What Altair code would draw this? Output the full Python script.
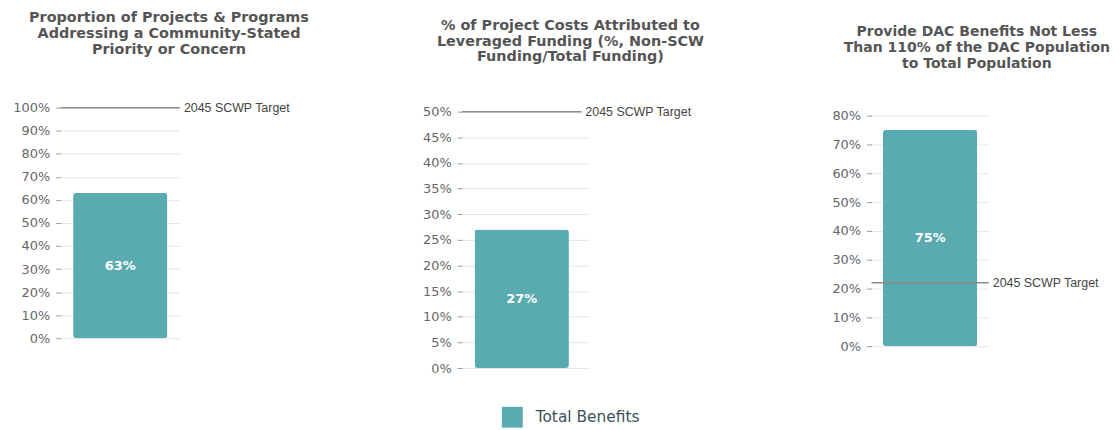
import altair as alt
import pandas as pd

# ---- data ----
titles = [
    ["Proportion of Projects & Programs", "Addressing a Community-Stated", "Priority or Concern"],
    ["% of Project Costs Attributed to", "Leveraged Funding (%, Non-SCW", "Funding/Total Funding)"],
    ["Provide DAC Benefits Not Less", "Than 110% of the DAC Population", "to Total Population"],
]
values = [63, 27, 75]
targets = [100, 50, 22]
tick_values = [
    [0, 10, 20, 30, 40, 50, 60, 70, 80, 90, 100],
    [0, 5, 10, 15, 20, 25, 30, 35, 40, 45, 50],
    [0, 10, 20, 30, 40, 50, 60, 70, 80],
]
series_name = "Total Benefits"
target_label = "2045 SCWP Target"

# ---- layout / style ----
TEAL = "#5aabb0"
widths = [120, 128, 118]
band_widths = [120, 120, 118]
heights = [232, 262, 240]
ymax = [100, 262 / 5.16, 240 / 2.9]
title_offsets = [45, 41, 37]
title_dx = [49, 45, 47]
title_sizes = [14.5, 14.5, 14.1]
FONT = "DejaVu Sans"


def panel(i):
    df = pd.DataFrame({
        "series": [series_name],
        "value": [values[i]],
        "label": [f"{values[i]}%"],
    })
    tdf = pd.DataFrame({"t": [targets[i]], "lab": [target_label]})
    yscale = alt.Scale(domain=[0, ymax[i]], nice=False, zero=True)
    yaxis = alt.Axis(
        values=tick_values[i],
        labelExpr="datum.value + '%'",
        title=None,
        domain=False,
        grid=True,
        labelOverlap=False,
    )
    pad_outer = (widths[i] / band_widths[i] - 1) / 2
    xenc = alt.X(
        "series:N",
        axis=None,
        scale=alt.Scale(paddingInner=0, paddingOuter=pad_outer, align=0),
    )

    bar = alt.Chart(df).mark_bar(width=95, cornerRadius=3).encode(
        x=xenc,
        y=alt.Y("value:Q", scale=yscale, axis=yaxis),
        color=alt.Color(
            "series:N",
            scale=alt.Scale(domain=[series_name], range=[TEAL]),
            legend=alt.Legend(
                title=None,
                orient="none",
                legendX=444,
                legendY=301,
                symbolType="square",
                symbolSize=441,
                symbolStrokeWidth=0,
                symbolOpacity=1,
                labelFontSize=15.5,
                labelFont=FONT,
                labelColor="#3d5257",
                labelOffset=13,
            ),
        ),
    )
    text = alt.Chart(df).transform_calculate(mid="datum.value / 2").mark_text(
        color="white", fontWeight="bold", fontSize=13, font=FONT
    ).encode(
        x=xenc,
        y=alt.Y("mid:Q", scale=yscale, axis=yaxis),
        text="label:N",
    )
    rule = alt.Chart(tdf).mark_rule(color="#8c8c8c", strokeWidth=1.5).encode(
        x=alt.value(0),
        x2=alt.value(band_widths[i]),
        y=alt.Y("t:Q", scale=yscale, axis=yaxis),
    )
    tlab = alt.Chart(tdf).mark_text(
        align="left", baseline="middle", dx=4, fontSize=12.5, font="Liberation Sans", color="#444444"
    ).encode(
        x=alt.value(band_widths[i]),
        y=alt.Y("t:Q", scale=yscale, axis=yaxis),
        text="lab:N",
    )
    return alt.layer(bar, text, rule, tlab).properties(
        width=widths[i],
        height=heights[i],
        title=alt.TitleParams(
            titles[i],
            anchor="middle",
            dx=title_dx[i],
            offset=title_offsets[i],
            font=FONT,
            fontSize=title_sizes[i],
            fontWeight="bold",
            color="#555555",
            lineHeight=16,
        ),
    )


chart = alt.hconcat(panel(0), panel(1), panel(2), spacing=284, bounds="flush").resolve_scale(
    y="independent", x="independent"
).properties(
    padding={"left": 4, "top": 0, "right": 0, "bottom": 0}
).configure_view(stroke=None).configure_axis(
    labelFont=FONT,
    labelFontSize=13,
    labelColor="#666666",
    tickColor="#999999",
    tickSize=5,
    labelPadding=6,
    gridColor="#e6e6e6",
)

chart.save("out.html", embed_options={"renderer": "svg", "actions": False})
